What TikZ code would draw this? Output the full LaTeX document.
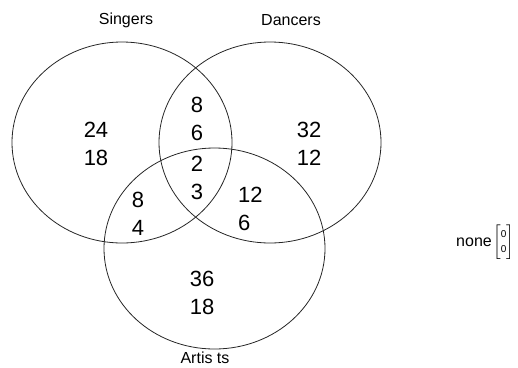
\documentclass[tikz,border=0pt]{standalone}
\usepackage{fontspec}
\setmainfont{Liberation Sans}
\usepackage{amsmath}

\begin{document}
\begin{tikzpicture}[
    % Halmazok körvonala
    set/.style={line width=0.8pt, black!85},
    % Számok a tartományokban
    num/.style={font=\fontsize{22}{28}\selectfont, inner sep=0pt, align=left},
    % Halmazok nevei
    setname/.style={font=\fontsize{16}{16}\selectfont, inner sep=0pt}
,x=1pt, y=-1pt]

    \useasboundingbox (0,0) rectangle (518,367);

    % Három ellipszis: énekesek, táncosok, művészek
    \draw[set] (122,142.5) ellipse (110pt and 100.5pt);
    \draw[set] (270,142.5) ellipse (111pt and 100.5pt);
    \draw[set] (214.5,248.5) ellipse (110.5pt and 100.5pt);

    % Feliratok a halmazok mellett
    \node[setname] (singers) at (126,20) {Singers};
    \node[setname] (dancers) at (291,20) {Dancers};
    \node[setname] (artists) at (205,358) {Artis ts};

    % Számok a tartományokban
    \node[num] (sonly) at (96,143.5) {24\\18};
    \node[num] (donly) at (309,143.5) {32\\12};
    \node[num] (aonly) at (202,293) {36\\18};
    \node[num] (sd) at (197,119) {8\\6};
    \node[num] (sda) at (197,177.5) {2\\3};
    \node[num] (sa) at (138,214) {8\\4};
    \node[num, anchor=west] (da) at (238,209) {12\\6};

    % Egyik halmazba sem tartozók
    \node[setname, anchor=east] (none) at (492,242) {none};
    \node[inner sep=0pt, anchor=west, font=\fontsize{15}{15}\selectfont] (nonevec) at ([xshift=1pt]none.east)
        {$\begin{bmatrix}\text{\fontsize{10}{10}\selectfont 0}\\\text{\fontsize{10}{10}\selectfont 0}\end{bmatrix}$};
\end{tikzpicture}
\end{document}
